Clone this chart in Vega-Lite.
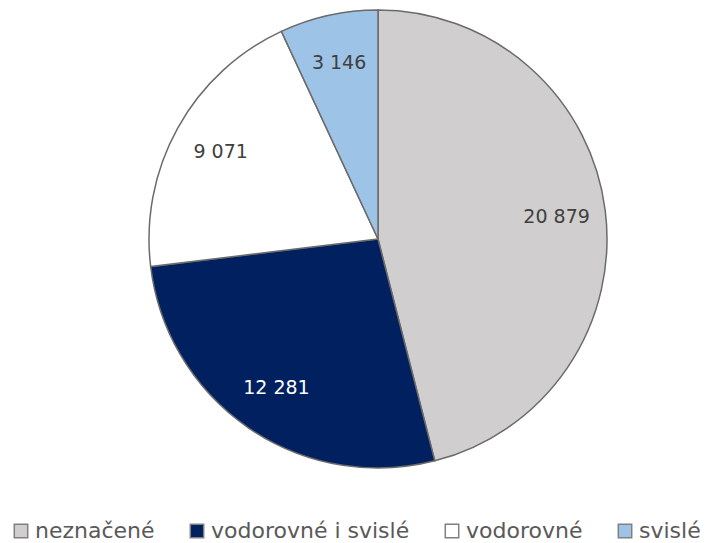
{
  "$schema": "https://vega.github.io/schema/vega-lite/v6.json",
  "width": 678,
  "height": 478,
  "autosize": {"type": "none"},
  "padding": {"left": 39, "top": 0, "right": 0, "bottom": 65},
  "background": "white",
  "config": {
    "view": {"stroke": null},
    "locale": {"number": {"decimal": ",", "thousands": " ", "grouping": [3], "currency": ["", " Kč"]}}
  },
  "data": {
    "values": [
      {"typ": "neznačené", "pocet": 20879},
      {"typ": "vodorovné i svislé", "pocet": 12281},
      {"typ": "vodorovné", "pocet": 9071},
      {"typ": "svislé", "pocet": 3146}
    ]
  },
  "transform": [
    {"calculate": "indexof(['neznačené','vodorovné i svislé','vodorovné','svislé'], datum.typ)", "as": "poradi"}
  ],
  "encoding": {
    "theta": {"field": "pocet", "type": "quantitative", "stack": true},
    "order": {"field": "poradi", "type": "quantitative", "sort": "ascending"}
  },
  "layer": [
    {
      "mark": {"type": "arc", "radius": 229, "stroke": "#6b6b6b", "strokeWidth": 1.5},
      "encoding": {
        "color": {
          "field": "typ",
          "type": "nominal",
          "scale": {
            "domain": ["neznačené", "vodorovné i svislé", "vodorovné", "svislé"],
            "range": ["#D0CECE", "#002060", "#FFFFFF", "#9DC3E6"]
          },
          "legend": {
            "title": null,
            "orient": "none",
            "direction": "horizontal",
            "legendX": -29,
            "legendY": 520,
            "symbolType": "square",
            "symbolSize": 180,
            "symbolStrokeColor": "#808080",
            "symbolStrokeWidth": 1.5,
            "symbolOpacity": 1,
            "labelFont": "DejaVu Sans",
            "labelFontSize": 22,
            "labelColor": "#595959",
            "labelOffset": 3,
            "columnPadding": 31,
            "labelLimit": 400
          }
        }
      }
    },
    {
      "mark": {"type": "text", "radius": 180, "font": "DejaVu Sans", "fontSize": 19},
      "encoding": {
        "text": {"field": "pocet", "type": "quantitative", "format": ",d"},
        "color": {
          "condition": {"test": "datum.typ === 'vodorovné i svislé'", "value": "#FFFFFF"},
          "value": "#404040"
        }
      }
    }
  ]
}
